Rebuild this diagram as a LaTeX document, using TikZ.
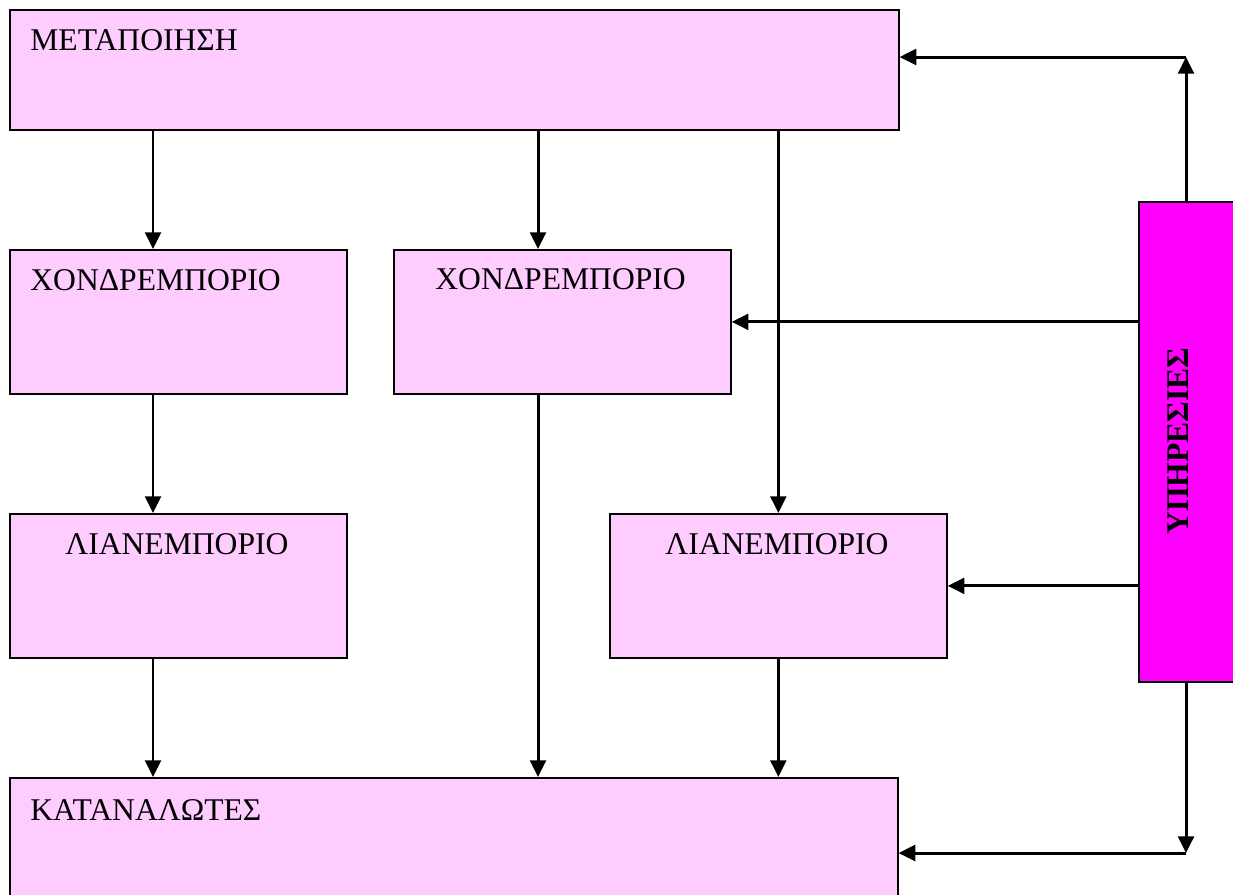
\documentclass[tikz,border=0pt]{standalone}
\usepackage{fontspec}
\setmainfont{Liberation Serif}
\usepackage{tikz}
\usetikzlibrary{arrows.meta}
\definecolor{boxpink}{RGB}{255,204,255}
\definecolor{servmagenta}{RGB}{255,0,255}

\begin{document}
\begin{tikzpicture}[
    x=0.02cm, y=-0.02cm,
    box/.style={rectangle, draw, line width=1pt, fill=boxpink, anchor=north west, inner sep=0pt},
    servbox/.style={box, fill=servmagenta},
    txt/.style={anchor=base west, inner sep=0pt, font=\fontsize{18}{20}\selectfont},
    arr/.style={line width=1.7pt, -{Triangle[length=9.5pt, width=9pt]}}
  ]
  \useasboundingbox (0,0) rectangle (1233,894);
  \clip (0,0) rectangle (1233,894);
  % boxes
  \node[box, minimum width=17.78cm, minimum height=2.4cm] (top) at (9,9) {};
  \node[box, minimum width=6.74cm, minimum height=2.88cm] (xondr1) at (9,249) {};
  \node[box, minimum width=6.74cm, minimum height=2.88cm] (xondr2) at (393,249) {};
  \node[box, minimum width=6.74cm, minimum height=2.88cm] (lian1) at (9,513) {};
  \node[box, minimum width=6.74cm, minimum height=2.88cm] (lian2) at (609,513) {};
  \node[box, minimum width=17.76cm, minimum height=2.6cm] (katan) at (9,777) {};
  \node[servbox, minimum width=2cm, minimum height=9.6cm] (serv) at (1138,201) {};
  % texts
  \node[txt] (ttop) at (30,50) {ΜΕΤΑΠΟΙΗΣΗ};
  \node[txt] (txondr1) at (30,290) {ΧΟΝΔΡΕΜΠΟΡΙΟ};
  \node[txt] (txondr2) at (435,289) {ΧΟΝΔΡΕΜΠΟΡΙΟ};
  \node[txt] (tlian1) at (65,554) {ΛΙΑΝΕΜΠΟΡΙΟ};
  \node[txt] (tlian2) at (665,554) {ΛΙΑΝΕΜΠΟΡΙΟ};
  \node[txt] (tkatan) at (30,820) {ΚΑΤΑΝΑΛΩΤΕΣ};
  \node[rotate=90, inner sep=0pt, font=\fontsize{18}{20}\selectfont\bfseries] (tserv) at (1178,441) {ΥΠΗΡΕΣΙΕΣ};
  % columns and corners
  \coordinate (c1) at (153,0);
  \coordinate (c2) at (538,0);
  \coordinate (up) at (1186,57);
  \coordinate (dn) at (1186,853);
  % flows
  \draw[arr] (top.south -| c1) -- (xondr1.north -| c1);
  \draw[arr] (top.south -| c2) -- (xondr2.north -| c2);
  \draw[arr] (top.south -| lian2.north) -- (lian2.north);
  \draw[arr] (xondr1.south -| c1) -- (lian1.north -| c1);
  \draw[arr] (lian1.south -| c1) -- (katan.north -| c1);
  \draw[arr] (xondr2.south -| c2) -- (katan.north -| c2);
  \draw[arr] (lian2.south) -- (katan.north -| lian2.south);
  % services
  \draw[arr] (serv.north -| up) -- (up);
  \draw[arr] (up) -- (up -| top.east);
  \draw[arr] (serv.south -| dn) -- (dn);
  \draw[arr] (dn) -- (dn -| katan.east);
  \draw[arr] (serv.west |- xondr2.east) -- (xondr2.east);
  \draw[arr] (serv.west |- lian2.east) -- (lian2.east);
\end{tikzpicture}
\end{document}
